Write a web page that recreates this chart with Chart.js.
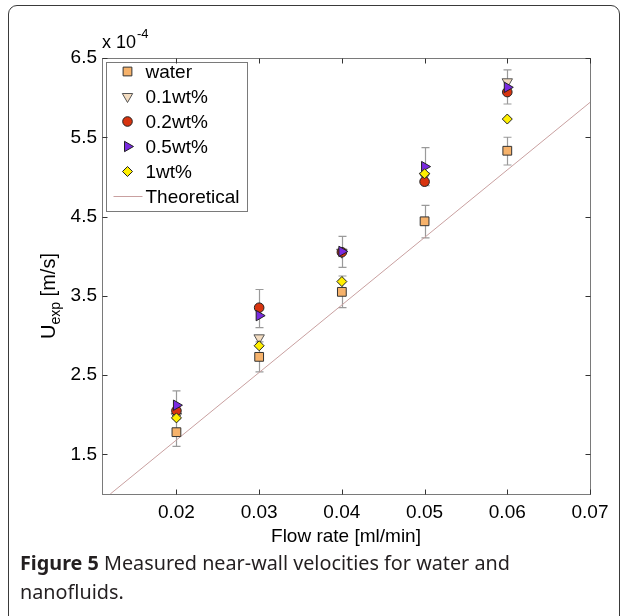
<!DOCTYPE html>
<html>
<head>
<meta charset="utf-8">
<script src="https://cdn.jsdelivr.net/npm/chart.js@4.4.0/dist/chart.umd.min.js"></script>
<style>
  html, body { margin: 0; padding: 0; background: #fff; overflow: hidden; width: 629px; height: 616px; }
  #frame { position: absolute; left: 8px; top: 5px; width: 610px; height: 680px; border: 1.5px solid #3a3a3a; border-radius: 9px; }
  #wrap { position: absolute; left: 0; top: 0; width: 629px; height: 616px; }
  #caption { position: absolute; left: 20px; top: 548px; font-family: "Noto Sans", sans-serif; font-size: 19.8px; line-height: 29px; color: #231f20; }
</style>
</head>
<body>
<div id="frame"></div>
<div id="wrap"><canvas id="chart" width="629" height="616"></canvas></div>
<div id="caption"><b>Figure 5</b> Measured near-wall velocities for water and<br>nanofluids.</div>
<script>
// values in units of 1e-4 m/s
const flowRates = [0.02, 0.03, 0.04, 0.05, 0.06];
const water = [1.78, 2.73, 3.55, 4.44, 5.33];
const wt01 = [1.98, 2.97, 4.05, 5.01, 6.20];
const wt02 = [2.05, 3.35, 4.05, 4.94, 6.07];
const wt05 = [2.12, 3.25, 4.06, 5.13, 6.13];
const wt1 = [1.96, 2.87, 3.68, 5.04, 5.73];

// theoretical line end points
const theoryX = [0.012, 0.07];
const theoryY = [1.0, 5.94];

// error bars (lower / upper ends)
const waterErrLow = [1.60, 2.54, 3.35, 4.23, 5.15];
const waterErrHigh = [1.96, 2.92, 3.75, 4.64, 5.50];
const topErrLow = [1.94, 3.10, 3.86, 4.89, 5.92];
const topErrHigh = [2.30, 3.58, 4.25, 5.37, 6.35];

const xTicks = [0.02, 0.03, 0.04, 0.05, 0.06, 0.07];
const yTicks = [1.5, 2.5, 3.5, 4.5, 5.5, 6.5];

const FONT = '"Liberation Sans", Arial, sans-serif';

function pts(ys) {
  return flowRates.map((x, i) => ({ x: x, y: ys[i] }));
}

const markerDefs = [
  { label: 'water', data: water, pointStyle: 'rect', rotation: 0, radius: 6.2, fill: '#f6b26b', stroke: '#333' },
  { label: '0.1wt%', data: wt01, pointStyle: 'triangle', rotation: 180, radius: 6, fill: '#f3dcc0', stroke: '#555' },
  { label: '0.2wt%', data: wt02, pointStyle: 'circle', rotation: 0, radius: 4.8, fill: '#d8340f', stroke: '#222' },
  { label: '0.5wt%', data: wt05, pointStyle: 'triangle', rotation: 90, radius: 6, fill: '#7a2be0', stroke: '#222' },
  { label: '1wt%', data: wt1, pointStyle: 'rectRot', rotation: 0, radius: 5, fill: '#ffef00', stroke: '#222' }
];

const datasets = markerDefs.map((m, i) => ({
  label: m.label,
  data: pts(m.data),
  pointStyle: m.pointStyle,
  rotation: m.rotation,
  pointRadius: m.radius,
  pointHoverRadius: m.radius,
  backgroundColor: m.fill,
  borderColor: m.stroke,
  borderWidth: 1,
  showLine: false,
  order: markerDefs.length - i
}));

datasets.push({
  label: 'Theoretical',
  data: theoryX.map((x, i) => ({ x: x, y: theoryY[i] })),
  showLine: true,
  borderColor: '#c9a0a0',
  borderWidth: 1,
  pointRadius: 0,
  order: 10
});

// error bars, drawn under the markers
const errorBars = {
  id: 'errorBars',
  beforeDatasetsDraw(chart) {
    const ctx = chart.ctx;
    const xs = chart.scales.x, ys = chart.scales.y;
    ctx.save();
    ctx.strokeStyle = '#9a9a9a';
    ctx.lineWidth = 1.2;
    [[waterErrLow, waterErrHigh], [topErrLow, topErrHigh]].forEach(([lo, hi]) => {
      flowRates.forEach((x, i) => {
        const px = Math.round(xs.getPixelForValue(x)) + 0.5;
        const y1 = ys.getPixelForValue(lo[i]);
        const y2 = ys.getPixelForValue(hi[i]);
        ctx.beginPath();
        ctx.moveTo(px, y1); ctx.lineTo(px, y2);
        ctx.moveTo(px - 4, y1); ctx.lineTo(px + 4, y1);
        ctx.moveTo(px - 4, y2); ctx.lineTo(px + 4, y2);
        ctx.stroke();
      });
    });
    ctx.restore();
  }
};

// box frame with inward ticks on all four sides
const boxFrame = {
  id: 'boxFrame',
  afterDraw(chart) {
    const ctx = chart.ctx;
    const a = chart.chartArea;
    const xs = chart.scales.x, ys = chart.scales.y;
    ctx.save();
    ctx.strokeStyle = '#7a7a7a';
    ctx.lineWidth = 1;
    const l = Math.round(a.left) + 0.5, r = Math.round(a.right) + 0.5;
    const t = Math.round(a.top) + 0.5, b = Math.round(a.bottom) + 0.5;
    ctx.strokeRect(l, t, r - l, b - t);
    ctx.strokeStyle = '#333';
    ctx.beginPath();
    xTicks.forEach(v => {
      const px = Math.round(xs.getPixelForValue(v)) + 0.5;
      ctx.moveTo(px, b); ctx.lineTo(px, b - 5);
      ctx.moveTo(px, t); ctx.lineTo(px, t + 5);
    });
    yTicks.forEach(v => {
      const py = Math.round(ys.getPixelForValue(v)) + 0.5;
      ctx.moveTo(l, py); ctx.lineTo(l + 5, py);
      ctx.moveTo(r, py); ctx.lineTo(r - 5, py);
    });
    ctx.stroke();
    ctx.restore();
  }
};

// legend box in the upper left corner of the plot
const boxLegend = {
  id: 'boxLegend',
  afterDatasetsDraw(chart) {
    const ctx = chart.ctx;
    const a = chart.chartArea;
    const x0 = Math.round(a.left) + 4.5, y0 = Math.round(a.top) + 4.5;
    const w = 141, h = 149, rowH = 25;
    ctx.save();
    ctx.fillStyle = '#fff';
    ctx.strokeStyle = '#7a7a7a';
    ctx.lineWidth = 1;
    ctx.fillRect(x0, y0, w, h);
    ctx.strokeRect(x0, y0, w, h);
    ctx.font = '19px ' + FONT;
    ctx.textBaseline = 'middle';
    chart.data.datasets.forEach((ds, i) => {
      const cy = y0 + 9 + i * rowH;
      if (ds.showLine) {
        ctx.strokeStyle = ds.borderColor;
        ctx.beginPath();
        ctx.moveTo(x0 + 7, cy); ctx.lineTo(x0 + 36, cy);
        ctx.stroke();
      } else {
        ctx.fillStyle = ds.backgroundColor;
        ctx.strokeStyle = ds.borderColor;
        ctx.lineWidth = 1;
        Chart.helpers.drawPoint(ctx, {
          pointStyle: ds.pointStyle,
          rotation: ds.rotation,
          radius: ds.pointRadius,
          borderWidth: 1
        }, x0 + 21, cy);
      }
      ctx.fillStyle = '#000';
      ctx.fillText(ds.label, x0 + 39, cy + 1);
    });
    ctx.restore();
  }
};

// y axis title with subscript and the x 10^-4 multiplier
const axisText = {
  id: 'axisText',
  afterDraw(chart) {
    const ctx = chart.ctx;
    const a = chart.chartArea;
    ctx.save();
    ctx.fillStyle = '#000';
    ctx.textBaseline = 'alphabetic';
    ctx.textAlign = 'left';
    const big = '20px ' + FONT, small = '14px ' + FONT;
    ctx.translate(55, 296);
    ctx.rotate(-Math.PI / 2);
    ctx.font = big;
    const wU = ctx.measureText('U').width;
    const wRest = ctx.measureText(' [m/s]').width;
    ctx.font = small;
    const wSub = ctx.measureText('exp').width;
    let x = -(wU + wSub + wRest) / 2;
    ctx.font = big; ctx.fillText('U', x, 0); x += wU;
    ctx.font = small; ctx.fillText('exp', x, 5); x += wSub;
    ctx.font = big; ctx.fillText(' [m/s]', x, 0);
    ctx.setTransform(1, 0, 0, 1, 0, 0);
    ctx.font = '18px ' + FONT;
    const w10 = ctx.measureText('x 10').width;
    ctx.fillText('x 10', a.left, 48);
    ctx.font = '13px ' + FONT;
    ctx.fillText('-4', a.left + w10 + 1, 38);
    ctx.restore();
  }
};

new Chart(document.getElementById('chart'), {
  type: 'scatter',
  data: { datasets: datasets },
  options: {
    responsive: false,
    animation: false,
    devicePixelRatio: 1,
    layout: { padding: { top: 58, right: 39, left: 0, bottom: 68 } },
    plugins: {
      legend: { display: false },
      tooltip: { enabled: false }
    },
    scales: {
      x: {
        type: 'linear',
        min: 0.011,
        max: 0.07,
        afterBuildTicks: s => { s.ticks = xTicks.map(v => ({ value: v })); },
        afterFit: s => { s.height = 54; },
        grid: { display: false, drawTicks: false },
        border: { display: false },
        ticks: {
          padding: 7,
          color: '#000',
          font: { family: FONT, size: 19 },
          maxRotation: 0,
          callback: v => v.toFixed(2)
        },
        title: {
          display: true,
          text: 'Flow rate [ml/min]',
          color: '#000',
          font: { family: FONT, size: 19 },
          padding: { top: 2, bottom: 0 }
        }
      },
      y: {
        type: 'linear',
        min: 1.0,
        max: 6.5,
        afterBuildTicks: s => { s.ticks = yTicks.map(v => ({ value: v })); },
        afterFit: s => { s.width = 102; },
        grid: { display: false, drawTicks: false },
        border: { display: false },
        ticks: {
          padding: 5,
          color: '#000',
          font: { family: FONT, size: 19 },
          callback: v => v.toFixed(1)
        }
      }
    }
  },
  plugins: [errorBars, boxLegend, boxFrame, axisText]
});
</script>
</body>
</html>
